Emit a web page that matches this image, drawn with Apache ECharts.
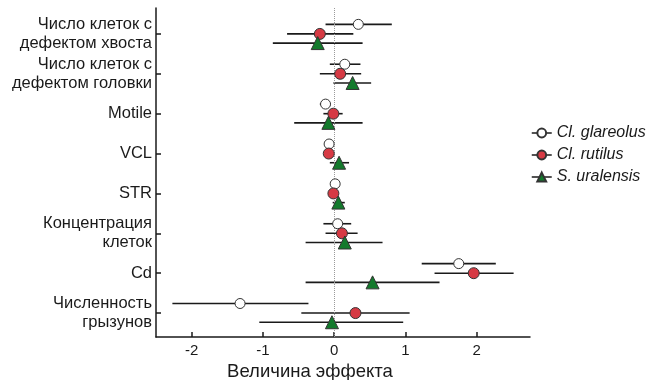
<!DOCTYPE html>
<html>
<head>
<meta charset="utf-8">
<script src="https://cdn.jsdelivr.net/npm/echarts@6/dist/echarts.min.js"></script>
<style>
  html, body { margin: 0; padding: 0; background: #fff; }
  #chart { width: 652px; height: 380px; }
</style>
</head>
<body>
<div id="chart"></div>
<script>
// categories, top to bottom
const categories = [
  'Число клеток с\nдефектом хвоста',
  'Число клеток с\nдефектом головки',
  'Motile',
  'VCL',
  'STR',
  'Концентрация\nклеток',
  'Cd',
  'Численность\nгрызунов'
];
const speciesNames = ['Cl. glareolus', 'Cl. rutilus', 'S. uralensis'];

// effect sizes and CI bounds
const glareolus = [0.34, 0.15, -0.12, -0.07, 0.015, 0.05, 1.75, -1.32];
const glareolusLow = [-0.12, -0.06, -0.20, -0.11, -0.02, -0.15, 1.23, -2.27];
const glareolusHigh = [0.81, 0.37, -0.06, -0.03, 0.05, 0.24, 2.27, -0.36];

const rutilus = [-0.20, 0.085, -0.01, -0.075, -0.01, 0.11, 1.96, 0.30];
const rutilusLow = [-0.66, -0.20, -0.15, -0.11, -0.04, -0.12, 1.41, -0.46];
const rutilusHigh = [0.27, 0.38, 0.12, -0.04, 0.02, 0.33, 2.52, 1.06];

const uralensis = [-0.23, 0.26, -0.08, 0.07, 0.06, 0.15, 0.54, -0.03];
const uralensisLow = [-0.86, -0.01, -0.56, -0.06, -0.02, -0.40, -0.40, -1.05];
const uralensisHigh = [0.40, 0.52, 0.40, 0.21, 0.15, 0.68, 1.48, 0.97];

const xTicks = [-2, -1, 0, 1, 2];

var myChart = echarts.init(document.getElementById('chart'));
const font = "'Liberation Sans', Arial, sans-serif";
const ink = '#1a1a1a';

// vertical shift of each species row around the category tick
const shifts = [-0.24, 0, 0.23];
const sets = [
  { mid: glareolus, lo: glareolusLow, hi: glareolusHigh, symbol: 'circle', size: 10, color: '#ffffff' },
  { mid: rutilus, lo: rutilusLow, hi: rutilusHigh, symbol: 'circle', size: 11, color: '#d63a44' },
  { mid: uralensis, lo: uralensisLow, hi: uralensisHigh, symbol: 'triangle', size: 13, color: '#137a2c' }
];

const series = [];
sets.forEach((s, i) => {
  series.push({
    type: 'custom',
    silent: true,
    z: 2,
    data: categories.map((c, k) => [s.lo[k], s.hi[k], k + shifts[i]]),
    encode: { x: [0, 1], y: 2 },
    renderItem: (params, api) => {
      const y = api.value(2);
      const a = api.coord([api.value(0), y]);
      const b = api.coord([api.value(1), y]);
      return {
        type: 'line',
        shape: { x1: a[0], y1: a[1], x2: b[0], y2: b[1] },
        style: { stroke: ink, lineWidth: 1.6 }
      };
    }
  });
});
sets.forEach((s, i) => {
  series.push({
    name: speciesNames[i],
    type: 'line',
    z: 5,
    symbol: s.symbol,
    symbolSize: s.size,
    showSymbol: true,
    lineStyle: { width: 0, opacity: 0 },
    itemStyle: { color: s.color, borderColor: '#333', borderWidth: 1, opacity: 1 },
    data: categories.map((c, k) => [s.mid[k], k + shifts[i]]),
    markLine: i === 0 ? {
      silent: true,
      symbol: 'none',
      label: { show: false },
      lineStyle: { type: 'dotted', color: '#9a9a9a', width: 1 },
      data: [{ xAxis: 0 }]
    } : undefined
  });
});

const option = {
  animation: false,
  textStyle: { fontFamily: font },
  grid: { left: 156, right: 122, top: 8, bottom: 43, outerBoundsMode: 'none' },
  legend: {
    orient: 'vertical',
    left: 526,
    top: 120,
    itemWidth: 20,
    itemHeight: 11,
    itemGap: 6,
    data: speciesNames,
    lineStyle: { width: 1.5, color: ink, opacity: 1 },
    textStyle: { fontStyle: 'italic', fontSize: 16, color: ink, fontFamily: font }
  },
  xAxis: {
    type: 'value',
    min: -2.5,
    max: 2.75,
    name: 'Величина эффекта',
    nameLocation: 'middle',
    nameGap: 20,
    nameTextStyle: { fontSize: 18.5, color: ink, padding: [0, 66, 0, 0] },
    axisLine: { show: true, onZero: false, lineStyle: { color: ink, width: 1.5 } },
    axisTick: { show: true, inside: true, length: 5, customValues: xTicks, lineStyle: { color: ink, width: 1.5 } },
    axisLabel: { customValues: xTicks, fontSize: 15, color: ink, margin: 6 },
    splitLine: { show: false }
  },
  yAxis: {
    type: 'value',
    inverse: true,
    min: -0.65,
    max: 7.6,
    axisLine: { show: true, onZero: false, lineStyle: { color: ink, width: 1.5 } },
    axisTick: { show: true, inside: true, length: 5, customValues: categories.map((c, k) => k), lineStyle: { color: ink, width: 1.5 } },
    axisLabel: {
      customValues: categories.map((c, k) => k),
      formatter: v => categories[Math.round(v)],
      fontSize: 16.5,
      lineHeight: 19,
      color: ink,
      margin: 4
    },
    splitLine: { show: false }
  },
  series
};
myChart.setOption(option);
</script>
</body>
</html>
